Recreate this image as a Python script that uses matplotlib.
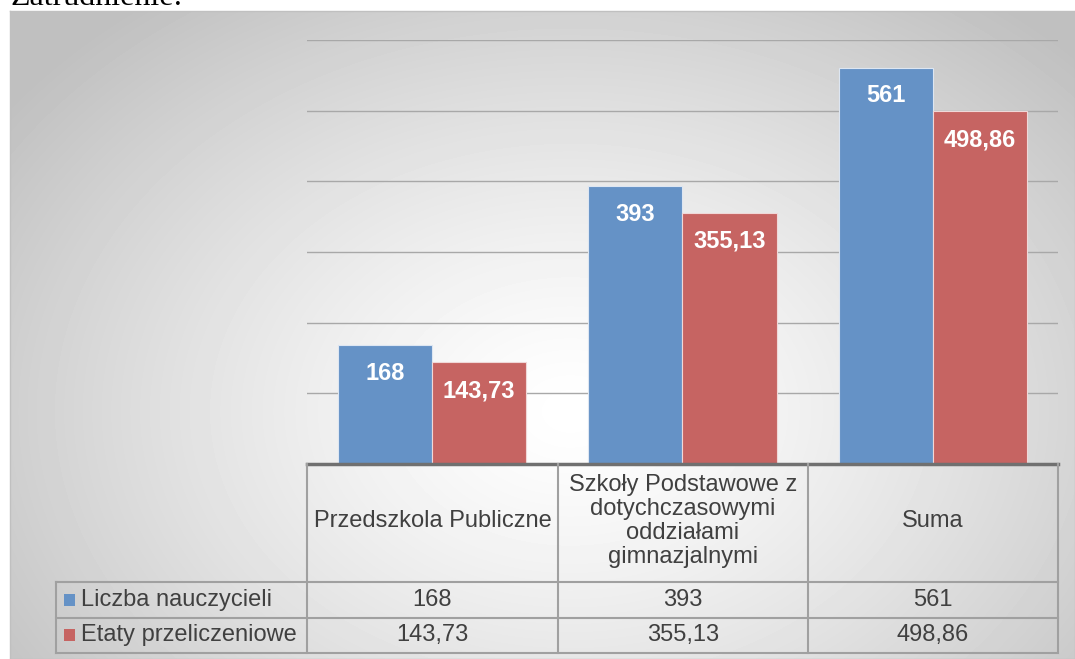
import matplotlib
matplotlib.use('Agg')
import matplotlib.pyplot as plt
import numpy as np

categories = ['Przedszkola Publiczne',
              'Szkoły Podstawowe z\ndotychczasowymi\noddziałami\ngimnazjalnymi',
              'Suma']
series_names = ['Liczba nauczycieli', 'Etaty przeliczeniowe']
teachers = [168, 393, 561]
posts = [143.73, 355.13, 498.86]
teachers_txt = ['168', '393', '561']
posts_txt = ['143,73', '355,13', '498,86']

W, H = 1075, 659
blue = '#6592C6'
red = '#C66462'
txtc = '#404040'
plt.rcParams['font.family'] = ['Liberation Sans', 'DejaVu Sans']

fig = plt.figure(figsize=(W / 100, H / 100), dpi=100)
fig.patch.set_facecolor('white')


def fx(x):
    return x / W


def fy(y):
    return 1 - y / H


# background frame with radial gradient
bg = fig.add_axes([fx(10), fy(659), fx(1065), (659 - 11) / H])
yy, xx = np.mgrid[0:648, 0:1065]
r = np.sqrt(((xx - 560) / 700.0) ** 2 + ((yy - 400) / 520.0) ** 2)
r = np.clip(r, 0, 1)
shade = 1.0 - 0.25 * r ** 1.3
bg.imshow(shade, cmap='gray', vmin=0, vmax=1, aspect='auto', interpolation='bilinear')
bg.set_xticks([])
bg.set_yticks([])
for s in bg.spines.values():
    s.set_color('#c0c0c0')
    s.set_linewidth(1)

fig.text(fx(10), fy(5), 'Zatrudnienie:', family='Liberation Serif', fontsize=23,
         va='baseline', ha='left', color='black')

# main plot
ax = fig.add_axes([fx(307), fy(464), fx(1058 - 307), (464 - 40) / H])
ax.patch.set_alpha(0)
x = np.arange(len(categories))
bw = 0.376
b1 = ax.bar(x - bw / 2, teachers, bw, color=blue, edgecolor='#dde6f2', linewidth=0.8, zorder=3)
b2 = ax.bar(x + bw / 2, posts, bw, color=red, edgecolor='#f0d8d8', linewidth=0.8, zorder=3)
for bars, labels in ((b1, teachers_txt), (b2, posts_txt)):
    for b, lab in zip(bars, labels):
        ax.annotate(lab, (b.get_x() + b.get_width() / 2, b.get_height()),
                    xytext=(0, -25), textcoords='offset points', ha='center',
                    va='baseline', color='white', fontsize=17, fontweight='bold', zorder=4)
ax.set_xlim(-0.5, 2.5)
ax.set_ylim(0, 600)
ax.set_yticks(range(100, 601, 100))
ax.yaxis.grid(True, color='#a8a8a8', linewidth=1)
ax.set_axisbelow(True)
ax.tick_params(left=False, bottom=False, labelleft=False, labelbottom=False)
for s in ax.spines.values():
    s.set_visible(False)

# data table
cols = [307, 558, 808, 1058]
lc = '#a0a0a0'


def hline(y, x0, x1, c=lc, lw=1.5):
    fig.add_artist(plt.Line2D([fx(x0), fx(x1)], [fy(y), fy(y)], color=c, linewidth=lw))


def vline(x_, y0, y1, c=lc, lw=1.5):
    fig.add_artist(plt.Line2D([fx(x_), fx(x_)], [fy(y0), fy(y1)], color=c, linewidth=lw))


hline(464, 307, 1058, c='#707070', lw=2.5)
hline(582, 56, 1058)
hline(618, 56, 1058)
hline(653, 56, 1058)
for cx in cols:
    vline(cx, 464, 653)
vline(56, 582, 653)

for i, cat in enumerate(categories):
    cxm = (cols[i] + cols[i + 1]) / 2
    fig.text(fx(cxm), fy(521), cat, ha='center', va='center', fontsize=17,
             color=txtc, linespacing=1.12)
    fig.text(fx(cxm), fy(600), teachers_txt[i], ha='center', va='center',
             fontsize=17, color=txtc)
    fig.text(fx(cxm), fy(635), posts_txt[i], ha='center', va='center',
             fontsize=17, color=txtc)

for name, c, yc in ((series_names[0], blue, 600), (series_names[1], red, 635)):
    fig.add_artist(plt.Rectangle((fx(64), fy(yc + 6)), fx(11), 12 / H,
                                 facecolor=c, edgecolor='none'))
    fig.text(fx(81), fy(yc), name, ha='left', va='center', fontsize=17, color=txtc)

fig.savefig('out.png', dpi=100)
